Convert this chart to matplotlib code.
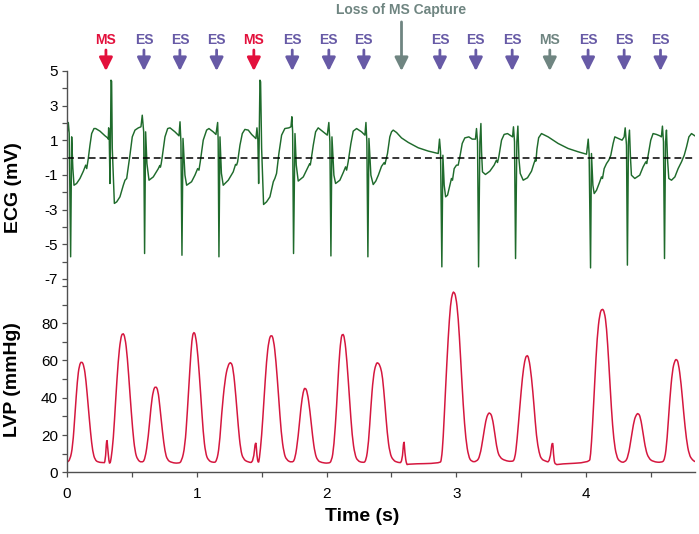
import matplotlib
matplotlib.use("Agg")
import matplotlib.pyplot as plt
from matplotlib.ticker import FixedLocator
from matplotlib.path import Path
from matplotlib.patches import PathPatch

# ============================================================
# data
# ============================================================
ecg_t = [
    0.000, 0.010, 0.017, 0.028, 0.036, 0.045, 0.054, 0.074, 0.100, 0.126, 0.144, 0.152, 0.157, 0.164, 0.177, 0.190, 0.208, 0.221, 0.254, 0.293, 0.313,
    0.318, 0.321, 0.326, 0.331, 0.336, 0.339, 0.344, 0.349, 0.365, 0.383, 0.408, 0.434, 0.447, 0.460, 0.467, 0.485, 0.503, 0.524, 0.550, 0.570,
    0.580, 0.591, 0.598, 0.606, 0.616, 0.632, 0.665, 0.704, 0.715, 0.720, 0.726, 0.734, 0.755, 0.776, 0.794, 0.832, 0.863,
    0.871, 0.878, 0.886, 0.894, 0.909, 0.922, 0.960, 0.986, 1.007, 1.017, 1.027, 1.050, 1.076, 1.094, 1.127, 1.148,
    1.161, 1.165, 1.171, 1.179, 1.190, 1.204, 1.243, 1.281, 1.299, 1.307, 1.315, 1.333, 1.351, 1.371, 1.397, 1.423, 1.456,
    1.464, 1.471, 1.477, 1.482, 1.487, 1.492, 1.500, 1.515, 1.538, 1.564, 1.590, 1.602, 1.615, 1.633, 1.654, 1.679, 1.710, 1.726,
    1.733, 1.739, 1.746, 1.757, 1.767, 1.782, 1.821, 1.859, 1.870, 1.875, 1.880, 1.898, 1.916, 1.936, 1.975, 2.006,
    2.018, 2.026, 2.034, 2.042, 2.057, 2.070, 2.103, 2.129, 2.147, 2.155, 2.167, 2.188, 2.206, 2.232, 2.270, 2.296,
    2.304, 2.311, 2.319, 2.327, 2.342, 2.360, 2.380, 2.400, 2.424, 2.445, 2.450, 2.455, 2.470, 2.488, 2.501, 2.514, 2.540, 2.578, 2.630, 2.707, 2.784, 2.861,
    2.871, 2.879, 2.889, 2.897, 2.907, 2.918, 2.933, 2.951, 2.963, 2.971, 2.984, 3.002, 3.015, 3.028, 3.046, 3.066, 3.097, 3.123, 3.148,
    3.156, 3.164, 3.172, 3.182, 3.190, 3.195, 3.202, 3.225, 3.259, 3.292, 3.310, 3.318, 3.328, 3.349, 3.369, 3.395, 3.421, 3.434,
    3.441, 3.449, 3.457, 3.467, 3.475, 3.483, 3.493, 3.516, 3.549, 3.580, 3.600, 3.610, 3.614, 3.622, 3.635, 3.657, 3.708, 3.785, 3.862, 3.939, 4.004,
    4.017, 4.024, 4.035, 4.042, 4.053, 4.063, 4.081, 4.106, 4.119, 4.127, 4.140, 4.158, 4.176, 4.191, 4.209, 4.222, 4.248, 4.278, 4.294,
    4.302, 4.312, 4.319, 4.327, 4.335, 4.343, 4.350, 4.376, 4.414, 4.440, 4.461, 4.468, 4.479, 4.499, 4.517, 4.543, 4.569, 4.581,
    4.589, 4.597, 4.605, 4.613, 4.620, 4.628, 4.638, 4.659, 4.685, 4.710, 4.736, 4.757, 4.775, 4.793, 4.813, 4.839,
]
ecg_v = [
    1.30, 2.03, 1.40, -5.72, 1.20, -0.60, -1.59, -1.49, -1.20, -0.78, -0.43, -0.63, -0.39, -0.05, 0.72, 1.39, 1.68, 1.68, 1.53, 1.26, 1.14,
    1.07, 1.72, 1.01, -1.49, 1.49, 4.47, 4.41, 0.53, -2.64, -2.55, -2.26, -1.59, -1.30, -1.20, -0.82, 0.14, 1.20, 1.59, 1.72, 1.78,
    2.45, 1.49, -5.53, 1.49, -0.34, -1.30, -1.11, -0.63, -0.45, -0.55, -0.35, 0.05, 1.20, 1.68, 1.72, 1.49, 1.26,
    2.07, 0.91, -5.63, 1.11, -1.01, -1.59, -1.39, -1.01, -0.63, -0.72, -0.24, 1.01, 1.59, 1.68, 1.49, 1.34,
    2.03, 1.00, -5.72, 1.20, -0.90, -1.59, -1.30, -0.82, -0.39, -0.43, -0.24, 0.72, 1.39, 1.63, 1.59, 1.34, 1.10,
    1.72, 1.01, -1.49, 1.49, 4.47, 4.38, 0.53, -2.70, -2.55, -2.26, -1.39, -1.20, -0.91, 0.24, 1.30, 1.68, 1.72, 1.78,
    2.36, 1.49, -5.53, 1.39, -0.43, -1.35, -1.11, -0.53, -0.35, -0.42, -0.20, 0.72, 1.49, 1.72, 1.49, 1.30,
    2.03, 0.91, -5.67, 1.20, -1.01, -1.49, -1.30, -0.86, -0.53, -0.72, -0.24, 0.82, 1.53, 1.68, 1.49, 1.30,
    2.03, 0.91, -5.72, 1.11, -1.01, -1.55, -1.35, -1.00, -0.50, -0.28, -0.38, -0.24, 0.24, 1.20, 1.49, 1.59, 1.45, 1.14, 0.88, 0.57, 0.38, 0.24,
    1.07, 0.34, -6.30, 0.14, -1.59, -2.26, -2.16, -1.59, -1.20, -1.30, -0.63, -0.43, -0.43, 0.05, 0.82, 1.14, 1.20, 1.07, 1.07,
    1.68, 0.91, -6.30, 0.91, 1.97, 0.34, -0.82, -0.97, -0.78, -0.43, -0.14, -0.28, 0.05, 1.01, 1.34, 1.39, 1.26, 1.20,
    1.78, 0.91, -5.82, 0.91, 1.82, -0.05, -0.91, -1.30, -1.16, -0.78, -0.30, -0.10, -0.20, 0.50, 1.15, 1.39, 1.20, 0.82, 0.53, 0.34, 0.20,
    1.07, 0.24, -6.36, 0.24, -1.59, -2.07, -1.88, -1.39, -1.11, -1.20, -0.63, -0.34, -0.14, 0.14, 0.82, 1.20, 1.11, 1.01, 1.20,
    1.72, 0.72, -6.20, 0.91, 1.59, -0.05, -1.01, -1.20, -1.01, -0.53, -0.24, -0.34, 0.14, 1.01, 1.39, 1.34, 1.26, 1.20,
    1.82, 0.91, -5.82, 0.91, 1.59, -0.05, -1.20, -1.30, -1.11, -0.63, -0.24, 0.14, 0.63, 1.20, 1.39, 1.26,
]

lvp_t = [
    0.000, 0.023, 0.044, 0.062, 0.080, 0.095, 0.113, 0.131, 0.146, 0.164, 0.182, 0.198, 0.216, 0.241, 0.280, 0.295,
    0.306, 0.313, 0.324, 0.331, 0.339,
    0.357, 0.375, 0.395, 0.413, 0.429, 0.447, 0.465, 0.485, 0.506, 0.524, 0.544, 0.575,
    0.601, 0.627, 0.647, 0.665, 0.683, 0.701, 0.716, 0.737, 0.755, 0.773, 0.806, 0.858, 0.883,
    0.909, 0.927, 0.948, 0.963, 0.976, 0.991, 1.009, 1.030, 1.050, 1.068, 1.089, 1.127, 1.153,
    1.174, 1.192, 1.217, 1.240, 1.263, 1.281, 1.302, 1.320, 1.338, 1.358, 1.397, 1.436,
    1.454, 1.464, 1.474, 1.482,
    1.500, 1.518, 1.538, 1.556, 1.574, 1.592, 1.610, 1.631, 1.651, 1.672, 1.692, 1.731,
    1.757, 1.782, 1.803, 1.821, 1.834, 1.852, 1.872, 1.893, 1.911, 1.931, 1.962, 2.013, 2.039,
    2.057, 2.078, 2.095, 2.111, 2.124, 2.139, 2.157, 2.178, 2.198, 2.219, 2.240, 2.278, 2.304,
    2.324, 2.342, 2.360, 2.381, 2.399, 2.417, 2.432, 2.450, 2.468, 2.488, 2.514, 2.553, 2.583,
    2.596, 2.604, 2.617, 2.630, 2.874, 2.886,
    2.899, 2.917, 2.938, 2.956, 2.971, 2.981, 2.997, 3.015, 3.033, 3.054, 3.074, 3.095, 3.117, 3.156,
    3.182, 3.208, 3.228, 3.245, 3.259, 3.277, 3.297, 3.315, 3.336, 3.375, 3.426, 3.451,
    3.469, 3.490, 3.510, 3.528, 3.543, 3.559, 3.580, 3.600, 3.618, 3.639, 3.657, 3.685, 3.721,
    3.742, 3.752, 3.765, 3.800, 4.024, 4.035,
    4.050, 4.068, 4.086, 4.106, 4.124, 4.142, 4.158, 4.176, 4.196, 4.214, 4.235, 4.260, 4.299,
    4.325, 4.350, 4.371, 4.389, 4.402, 4.419, 4.440, 4.460, 4.483, 4.517, 4.581, 4.607,
    4.625, 4.645, 4.666, 4.684, 4.697, 4.712, 4.733, 4.753, 4.774, 4.795, 4.820, 4.841,
]
lvp_p = [
    5.4, 6.6, 13.8, 31.7, 49.6, 57.6, 59.7, 57.1, 49.6, 35.2, 20.9, 11.1, 6.6, 5.4, 5.2, 5.2,
    19.1, 13.8, 5.2, 4.8, 6.6,
    17.4, 38.8, 60.3, 71.9, 75.0, 72.8, 62.1, 42.4, 22.7, 11.1, 6.6, 5.2,
    6.6, 19.1, 35.2, 44.2, 46.3, 44.2, 35.2, 20.9, 11.1, 6.6, 5.2, 4.8, 5.7,
    13.8, 31.7, 56.7, 71.9, 75.5, 73.7, 63.0, 42.4, 20.9, 10.2, 6.3, 5.2, 5.7,
    13.8, 31.7, 49.6, 57.5, 59.4, 55.8, 40.6, 24.5, 12.0, 7.0, 5.4, 5.2,
    18.8, 8.4, 4.8, 6.6,
    19.1, 38.8, 60.3, 71.0, 74.1, 71.4, 60.3, 40.6, 20.9, 10.2, 6.6, 5.2,
    6.6, 19.1, 35.2, 43.6, 45.6, 43.3, 33.3, 19.1, 10.2, 6.3, 5.2, 4.8, 5.7,
    13.8, 35.2, 58.5, 71.9, 74.6, 72.5, 60.3, 38.8, 19.1, 9.3, 6.1, 5.2, 5.7,
    15.6, 35.2, 51.3, 58.5, 58.9, 56.4, 51.3, 37.0, 20.9, 10.2, 6.3, 5.2, 5.2,
    18.8, 10.2, 3.9, 4.5, 4.8, 6.6,
    17.4, 44.2, 72.8, 90.7, 96.1, 97.0, 94.6, 83.5, 62.1, 35.2, 17.4, 8.4, 5.7, 5.7,
    8.4, 19.1, 28.1, 31.5, 32.0, 29.9, 20.9, 12.0, 7.9, 6.3, 5.7, 6.6,
    17.4, 35.2, 51.3, 60.3, 63.0, 61.7, 51.3, 35.2, 19.1, 10.2, 7.0, 6.1, 5.2,
    19.1, 6.6, 3.9, 4.5, 5.2, 8.4,
    24.5, 49.6, 72.8, 85.3, 88.0, 86.2, 78.2, 58.5, 33.5, 17.4, 8.4, 5.7, 5.2,
    8.4, 19.1, 28.1, 31.1, 31.7, 29.9, 20.9, 12.0, 7.5, 5.7, 5.2, 6.6,
    17.4, 38.8, 54.9, 59.9, 60.8, 58.9, 47.8, 31.7, 17.4, 9.3, 6.6, 5.7,
]

# stimulus markers above the ECG
stim_times = [0.300, 0.593, 0.870, 1.153, 1.440, 1.736, 2.018, 2.288,
              2.874, 3.151, 3.431, 3.721, 4.016, 4.294, 4.574]
stim_labels = ["MS", "ES", "ES", "ES", "MS", "ES", "ES", "ES",
               "ES", "ES", "ES", "MS", "ES", "ES", "ES"]
stim_kinds = ["ms", "es", "es", "es", "ms", "es", "es", "es",
              "es", "es", "es", "lost", "es", "es", "es"]
loss_time = 2.578
loss_label = "Loss of MS Capture"

ecg_ticks = [5, 3, 1, -1, -3, -5, -7]
lvp_ticks = [0, 20, 40, 60, 80]
time_ticks = [0, 1, 2, 3, 4]

# ============================================================
# style
# ============================================================
plt.rcParams['font.family'] = ['Liberation Sans', 'DejaVu Sans']
plt.rcParams['axes.unicode_minus'] = False
c_ecg = '#1F6B2C'
c_lvp = '#D5173F'
kind_color = {"ms": '#E3103C', "es": '#675AA6', "lost": '#6F8581'}
spine_c = '#505050'


def rounded_path(xs, ys):
    # quadratic curve through the midpoints, so the pressure peaks come out round
    verts = [(xs[0], ys[0]), ((xs[0] + xs[1]) / 2, (ys[0] + ys[1]) / 2)]
    codes = [Path.MOVETO, Path.LINETO]
    for i in range(1, len(xs) - 1):
        verts.append((xs[i], ys[i]))
        verts.append(((xs[i] + xs[i + 1]) / 2, (ys[i] + ys[i + 1]) / 2))
        codes += [Path.CURVE3, Path.CURVE3]
    verts.append((xs[-1], ys[-1]))
    codes.append(Path.LINETO)
    return Path(verts, codes)


W, H = 699, 534
fig = plt.figure(figsize=(W / 100, H / 100), dpi=100)
x0, x1 = 67, 695
ax_ecg = fig.add_axes([x0 / W, (H - 279) / H, (x1 - x0) / W, 208 / H])
ax_lvp = fig.add_axes([x0 / W, (H - 472.3) / H, (x1 - x0) / W, 192.3 / H])

for ax in (ax_ecg, ax_lvp):
    ax.set_xlim(0, 4.84)
    for s in ('top', 'right'):
        ax.spines[s].set_visible(False)
    for s in ('left', 'bottom'):
        ax.spines[s].set_color(spine_c)
        ax.spines[s].set_linewidth(1.0)
    ax.tick_params(which='both', direction='out', length=3.5, width=0.9,
                   color=spine_c, labelsize=11, pad=3)
    ax.set_facecolor('none')

# ---- ECG ----
ax_ecg.plot(ecg_t, ecg_v, color=c_ecg, lw=1.05)
ax_ecg.axhline(0, color='black', lw=1.1, ls=(0, (4.5, 2.6)))
ax_ecg.set_ylim(-7, 5)
ax_ecg.yaxis.set_major_locator(FixedLocator(ecg_ticks))
ax_ecg.yaxis.set_minor_locator(FixedLocator([4, 2, 0, -2, -4, -6]))
ax_ecg.spines['bottom'].set_visible(False)
ax_ecg.tick_params(axis='x', which='both', bottom=False, labelbottom=False)
ax_ecg.set_ylabel("ECG (mV)", fontsize=14, fontweight='bold')
ax_ecg.yaxis.set_label_coords(-0.071, 0.44)

# ---- LVP ----
ax_lvp.add_patch(PathPatch(rounded_path(lvp_t, lvp_p), fill=False,
                           edgecolor=c_lvp, lw=1.1))
ax_lvp.set_ylim(0, 103.2)
ax_lvp.yaxis.set_major_locator(FixedLocator(lvp_ticks))
ax_lvp.yaxis.set_minor_locator(FixedLocator([10, 30, 50, 70, 90, 100]))
ax_lvp.xaxis.set_major_locator(FixedLocator(time_ticks))
ax_lvp.xaxis.set_minor_locator(FixedLocator([0.5, 1.5, 2.5, 3.5, 4.5]))
ax_lvp.tick_params(axis='x', which='both', pad=7)
ax_lvp.set_ylabel("LVP (mmHg)", fontsize=14, fontweight='bold')
ax_lvp.yaxis.set_label_coords(-0.073, 0.48)
ax_lvp.set_xlabel("Time (s)", fontsize=14, fontweight='bold')
ax_lvp.xaxis.set_label_coords(0.47, -0.185)

# ---- stimulus arrows ----
arrow_style = '-|>,head_length=0.8,head_width=0.4'
for t, lab, kind in zip(stim_times, stim_labels, stim_kinds):
    c = kind_color[kind]
    ax_ecg.annotate('', xy=(t, 1.0), xycoords=('data', 'axes fraction'),
                    xytext=(t, 1.101), textcoords=('data', 'axes fraction'),
                    arrowprops=dict(arrowstyle=arrow_style, color=c, lw=2.0,
                                    shrinkA=0, shrinkB=0, mutation_scale=10),
                    annotation_clip=False)
    ax_ecg.text(t, 1.149, lab, transform=ax_ecg.get_xaxis_transform(),
                ha='center', va='center', fontsize=10, fontweight='bold',
                color=c, clip_on=False)

c = kind_color["lost"]
ax_ecg.annotate('', xy=(loss_time, 1.0), xycoords=('data', 'axes fraction'),
                xytext=(loss_time, 1.236), textcoords=('data', 'axes fraction'),
                arrowprops=dict(arrowstyle=arrow_style, color=c, lw=2.0,
                                shrinkA=0, shrinkB=0, mutation_scale=10),
                annotation_clip=False)
ax_ecg.text(loss_time, 1.293, loss_label, transform=ax_ecg.get_xaxis_transform(),
            ha='center', va='center', fontsize=10, fontweight='bold',
            color=c, clip_on=False)

fig.savefig("out.png", dpi=100)
